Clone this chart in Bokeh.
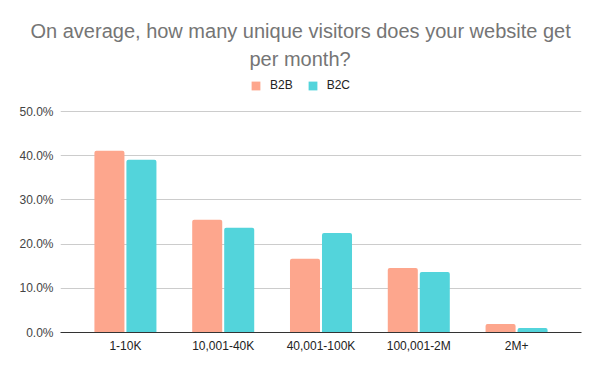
from bokeh.plotting import figure
from bokeh.models import (ColumnDataSource, FactorRange, Range1d, Legend, LegendItem,
                          Title, NumeralTickFormatter, FixedTicker)
from bokeh.transform import dodge
from bokeh.embed import file_html
from bokeh.resources import INLINE

categories = ["1-10K", "10,001-40K", "40,001-100K", "100,001-2M", "2M+"]
b2b = [0.411, 0.255, 0.167, 0.146, 0.019]
b2c = [0.391, 0.237, 0.225, 0.137, 0.010]
series_names = ["B2B", "B2C"]
y_ticks = [0.0, 0.1, 0.2, 0.3, 0.4, 0.5]
title_lines = ["On average, how many unique visitors does your website get", "per month?"]

src = ColumnDataSource(dict(cat=categories, b2b=b2b, b2c=b2c))

FONT = "Liberation Sans"
C_B2B = "#FDA68D"
C_B2C = "#53D4DB"

# frame spans from the title block down to the axis; px per unit = 442
p = figure(width=584, height=355, output_backend="svg", toolbar_location=None,
           x_range=FactorRange(*categories, range_padding=0.0656),
           y_range=Range1d(0, 0.5928),
           min_border_left=60, min_border_right=3, min_border_top=70, min_border_bottom=23)
p.outline_line_color = None

r1 = p.vbar(x=dodge("cat", -0.1636, range=p.x_range), top="b2b", width=0.307, source=src,
            fill_color=C_B2B, line_color=None, border_radius=(2, 2, 0, 0))
r2 = p.vbar(x=dodge("cat", 0.1636, range=p.x_range), top="b2c", width=0.307, source=src,
            fill_color=C_B2C, line_color=None, border_radius=(2, 2, 0, 0))

p.yaxis.ticker = FixedTicker(ticks=y_ticks)
p.yaxis.formatter = NumeralTickFormatter(format="0.0%")
p.yaxis.axis_line_color = None
p.yaxis.major_tick_line_color = None
p.yaxis.minor_tick_line_color = None
p.yaxis.major_tick_out = 0
p.yaxis.major_tick_in = 0
p.yaxis.major_label_standoff = 7
p.yaxis.major_label_text_font = FONT
p.yaxis.major_label_text_font_size = "12px"
p.yaxis.major_label_text_color = "#444444"

p.xaxis.axis_line_color = "#333333"
p.xaxis.axis_line_width = 1
p.xaxis.major_tick_line_color = None
p.xaxis.minor_tick_line_color = None
p.xaxis.major_tick_out = 0
p.xaxis.major_tick_in = 0
p.xaxis.major_label_standoff = 6
p.xaxis.major_label_text_font = FONT
p.xaxis.major_label_text_font_size = "12px"
p.xaxis.major_label_text_color = "#222222"

p.xgrid.grid_line_color = None
p.ygrid.grid_line_color = "#cccccc"
p.ygrid.ticker = FixedTicker(ticks=y_ticks)

legend = Legend(items=[LegendItem(label=series_names[0], renderers=[r1]),
                       LegendItem(label=series_names[1], renderers=[r2])],
                orientation="horizontal", location=(190, 240),
                glyph_width=11, glyph_height=11, label_standoff=9, spacing=14,
                padding=0, margin=0, border_line_color=None, background_fill_alpha=0,
                label_text_font=FONT, label_text_font_size="12px", label_text_color="#222222")
p.add_layout(legend, "center")

# two title lines, centred over the whole chart; the first added sits closest to the frame
p.add_layout(Title(text=title_lines[1], align="left", offset=189, standoff=1,
                   text_font=FONT, text_font_size="20px", text_font_style="normal",
                   text_color="#757575"), "above")
p.add_layout(Title(text=title_lines[0], align="left", offset=-30, standoff=8,
                   text_font=FONT, text_font_size="20px", text_font_style="normal",
                   text_color="#757575"), "above")

open("out.html", "w").write(file_html(p, INLINE))
